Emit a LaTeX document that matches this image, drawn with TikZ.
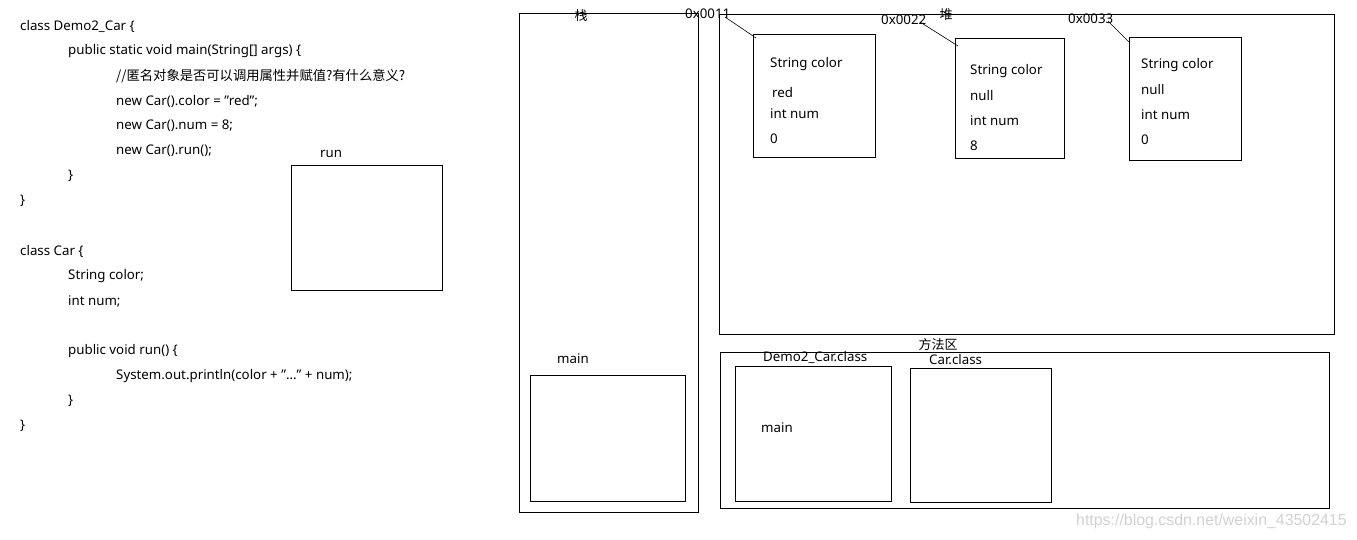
\documentclass[tikz,border=0pt]{standalone}
\usepackage{fontspec}
\setmainfont{Noto Sans}[Ligatures=NoCommon]
\newfontfamily\cjk{Noto Sans CJK SC}
\usetikzlibrary{calc}
\newcommand{\dq}{{\char34}}
\begin{document}
\begin{tikzpicture}[x=1pt,y=-1pt,
  txt/.style={anchor=west,inner sep=0pt,yshift=-1pt,font=\fontsize{13.3}{15}\selectfont},
  ctxt/.style={anchor=center,inner sep=0pt,font=\fontsize{13}{15}\selectfont\cjk},
  box/.style={draw,line width=1pt,anchor=north west,inner sep=0pt},
  ptr/.style={draw,line width=0.6pt}]
\useasboundingbox (0,0) rectangle (1357,539);
% code
\node[txt] (c1) at (20,25) {class Demo2\_Car \{};
\node[txt] (c2) at (68,50) {public static void main(String[] args) \{};
\node[txt,font=\fontsize{13.3}{15}\selectfont\cjk] (c3) at (116,75) {//匿名对象是否可以调用属性并赋值?有什么意义?};
\node[txt] (c4) at (116,100) {new Car().color = \dq red\dq;};
\node[txt] (c5) at (116,125) {new Car().num = 8;};
\node[txt] (c6) at (116,150) {new Car().run();};
\node[txt] (c7) at (68,175) {\}};
\node[txt] (c8) at (20,200) {\}};
\node[txt] (c9) at (20,250) {class Car \{};
\node[txt] (c10) at (68,275) {String color;};
\node[txt] (c11) at (68,300) {int num;};
\node[txt] (c12) at (68,350) {public void run() \{};
\node[txt] (c13) at (116,375) {System.out.println(color + \dq...\dq{} + num);};
\node[txt] (c14) at (68,400) {\}};
\node[txt] (c15) at (20,425) {\}};
% run frame
\node[box,minimum width=151pt,minimum height=125pt] (run) at (291,165) {};
\node[txt] (runl) at (320,153) {run};
% stack
\node[box,minimum width=179pt,minimum height=499pt] (stack) at (519,13) {};
\node[ctxt] (stackl) at (581,16) {栈};
\node[txt] (mainl) at (557,358) {main};
\node[box,minimum width=155pt,minimum height=126pt] (mainf) at (530,375) {};
% heap
\node[box,minimum width=615pt,minimum height=320pt] (heap) at (719,14) {};
\node[ctxt] (heapl) at (946,15) {堆};
% object 1
\node[box,minimum width=122pt,minimum height=123pt] (o1) at (753,34) {};
\node[txt] at (770,63) {String color};
\node[txt] at (772,92) {red};
\node[txt] at (770,113) {int num};
\node[txt] at (770,138) {0};
\node[txt] (a1) at (685,13) {0x0011};
% object 2
\node[box,minimum width=109pt,minimum height=120pt] (o2) at (955,38) {};
\node[txt] at (970,70) {String color};
\node[txt] at (970,95) {null};
\node[txt] at (970,120) {int num};
\node[txt] at (970,145) {8};
\node[txt] (a2) at (881,19) {0x0022};
% object 3
\node[box,minimum width=112pt,minimum height=123pt] (o3) at (1129,37) {};
\node[txt] at (1141,64) {String color};
\node[txt] at (1141,89) {null};
\node[txt] at (1141,114) {int num};
\node[txt] at (1141,139) {0};
\node[txt] (a3) at (1068,18) {0x0033};
% pointers
\coordinate (p1) at (725,17);
\coordinate (p2) at (920,22);
\coordinate (p3) at (1108,21);
\draw[ptr] (p1) -- ($(o1.north west)+(3,4)$);
\draw[ptr] (p2) -- ($(o2.north west)+(3,8)$);
\draw[ptr] (p3) -- ($(o3.north west)+(1,6)$);
% method area
\node[box,minimum width=609pt,minimum height=156pt] (meth) at (720,352) {};
\node[ctxt] (methl) at (938,345) {方法区};
\node[txt] (d2l) at (763,356) {Demo2\_Car.class};
\node[box,minimum width=156pt,minimum height=135pt] (d2) at (735,366) {};
\node[txt] (d2m) at (761,427) {main};
\node[txt] (carl) at (929,359) {Car.class};
\node[box,minimum width=141pt,minimum height=134pt] (car) at (910,368) {};
% watermark
\node[anchor=west,inner sep=0pt,text=black!18,font=\fontsize{15.9}{17}\selectfont\fontspec{Liberation Sans}] (wm) at (1076,521) {https://blog.csdn.net/weixin\_43502415};
\end{tikzpicture}
\end{document}
